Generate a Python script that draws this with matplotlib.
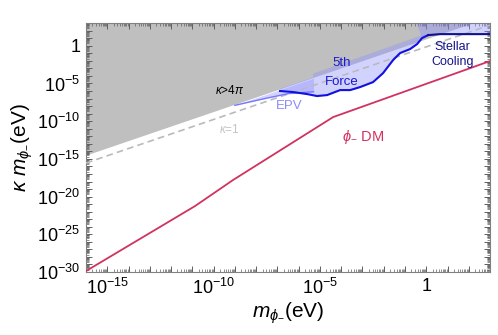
import numpy as np
import matplotlib as mpl
import matplotlib.pyplot as plt
from matplotlib.ticker import FixedLocator, FuncFormatter

plt.rcParams['font.family'] = ['Liberation Sans', 'DejaVu Sans']
plt.rcParams['mathtext.fontset'] = 'custom'
plt.rcParams['mathtext.rm'] = 'Liberation Sans'
plt.rcParams['mathtext.it'] = 'Liberation Sans:italic'

# axis ranges (log10)
xlim_log = (-16, 3)
ylim_log = (-30, 3)

# kappa = 4 pi boundary and kappa = 1 line (log10 values)
k4pi_x = [-16, 3]
k4pi_y = [-14.49, 3.81]
k1_x = [-16, 3]
k1_y = [-15.55, 2.74]

# 5th force lower edge (log10)
fifth_x = [-6.875, -6.26, -5.6, -5.135, -4.66, -4.29, -4.05, -3.58, -3.11,
           -2.5, -2.03, -1.56, -1.23, -0.76, -0.43, -0.2, 0.09]
fifth_y = [-6.0, -6.14, -6.41, -6.67, -6.54, -6.14, -5.88, -5.88, -5.48,
           -4.82, -3.63, -1.9, -0.97, -0.44, 0.22, 1.01, 1.41]
# 5th force upper edge, right to left
fifth_top_x = [0.09, -0.29, -5.32, -5.32, -6.875]
fifth_top_y = [1.6, 1.3, -3.7, -4.2, -5.7]

# EPV band
epv_x = [-9.0, -8.3, -7.5, -6.5, -5.3]
epv_lo = [-7.9, -7.45, -6.95, -6.35, -6.1]
epv_hi = [-7.86, -7.19, -6.42, -5.46, -4.3]

# stellar cooling lower edge
stellar_x = [-0.2, 0.09, 0.65, 3.0]
stellar_y = [1.01, 1.41, 1.54, 1.54]

# phi_- dark matter line
dm_x = [-16, -10.87, -9.09, -4.38, 3.0]
dm_y = [-29.87, -21.25, -17.81, -9.46, -2.03]


def p(a):
    return 10.0 ** np.asarray(a, dtype=float)


fig = plt.figure(figsize=(4.98, 3.35), dpi=100)
ax = fig.add_axes([0.1727, 0.188, 0.8113, 0.743])
ax.set_xscale('log')
ax.set_yscale('log')
ax.set_xlim(p(xlim_log[0]), p(xlim_log[1]))
ax.set_ylim(p(ylim_log[0]), p(ylim_log[1]))

# kappa > 4 pi excluded
ax.fill_between(p(k4pi_x), p(k4pi_y), p(ylim_log[1]), color='#bfbfbf', lw=0, zorder=1)

# EPV
ax.fill_between(p(epv_x), p(epv_lo), p(epv_hi), color='#d2d2ff', lw=0, zorder=2)
ax.plot(p(epv_x), p(epv_lo), color='#7878ff', lw=1.0, zorder=4)

# 5th force
px = list(fifth_x) + list(fifth_top_x)
py = list(fifth_y) + list(fifth_top_y)
ax.fill(p(px), p(py), color='#9090ff', alpha=0.4, lw=0, zorder=2)

# stellar cooling
sx = list(stellar_x) + [3.0, -0.45]
sy = list(stellar_y) + [3.0, 3.0]
ax.fill(p(sx), p(sy), color='#9090ff', alpha=0.4, lw=0, zorder=2)

ax.plot(p(k1_x), p(k1_y), color='#bababa', lw=1.2, ls=(0, (4, 2.5)), zorder=3)

ax.plot(p(fifth_x), p(fifth_y), color='#1010e0', lw=1.5, zorder=5)
ax.plot(p(stellar_x[1:]), p(stellar_y[1:]), color='#101090', lw=1.5, zorder=5)

ax.plot(p(dm_x), p(dm_y), color='#d2325f', lw=1.3, zorder=5)

# labels
ax.text(p(-9.23), p(-6.0), r'$\kappa$>4$\pi$', fontsize=8.5, color='black', ha='center', va='center', zorder=6)
ax.text(p(-9.27), p(-11.05), r'$\kappa$=1', fontsize=8.5, color='#c4c4c4', ha='center', va='center', zorder=6)
ax.text(p(-4.0), p(-2.3), '5th', fontsize=9.5, color='#1a1ad0', ha='center', va='center', zorder=6)
ax.text(p(-3.98), p(-4.75), 'Force', fontsize=9.5, color='#1a1ad0', ha='center', va='center', zorder=6)
ax.text(p(-6.45), p(-8.0), 'EPV', fontsize=9.5, color='#8c8cf5', ha='center', va='center', zorder=6)
ax.text(p(1.22), p(-0.18), 'Stellar', fontsize=9, color='#14148c', ha='center', va='center', zorder=6)
ax.text(p(1.26), p(-2.17), 'Cooling', fontsize=9, color='#14148c', ha='center', va='center', zorder=6)
ax.text(p(-2.97), p(-12.1), r'$\phi_{-}$ DM', fontsize=10.5, color='#d2325f', ha='center', va='center', zorder=6)


def fmt(v, pos):
    e = int(round(np.log10(v)))
    if e % 5 != 0:
        return ''
    if e == 0:
        return '1'
    return r'$\mathregular{10^{%d}}$' % e


def minors(lo, hi):
    out = []
    for e in range(lo, hi):
        for s in range(2, 10):
            out.append(s * 10.0 ** e)
    return out


ax.xaxis.set_major_locator(FixedLocator(p(np.arange(xlim_log[0], xlim_log[1] + 1))))
ax.yaxis.set_major_locator(FixedLocator(p(np.arange(ylim_log[0], ylim_log[1] + 1))))
ax.xaxis.set_minor_locator(FixedLocator(minors(xlim_log[0], xlim_log[1])))
ax.yaxis.set_minor_locator(FixedLocator(minors(ylim_log[0], ylim_log[1])))
ax.xaxis.set_major_formatter(FuncFormatter(fmt))
ax.yaxis.set_major_formatter(FuncFormatter(fmt))
ax.xaxis.set_minor_formatter(FuncFormatter(lambda v, pos: ''))
ax.yaxis.set_minor_formatter(FuncFormatter(lambda v, pos: ''))

ax.tick_params(which='both', direction='in', top=True, right=True, color='#606060', labelsize=13)
ax.tick_params(which='major', length=4, width=0.7, pad=4)
ax.tick_params(which='minor', length=2, width=0.5)
for s in ax.spines.values():
    s.set_color('#808080')
    s.set_linewidth(0.8)

ax.set_xlabel(r'$m_{\phi_{-}}$(eV)', fontsize=15, labelpad=2)
ax.set_ylabel(r'$\kappa\ m_{\phi_{-}}$(eV)', fontsize=15, labelpad=2)

fig.savefig('out.png', dpi=100)
